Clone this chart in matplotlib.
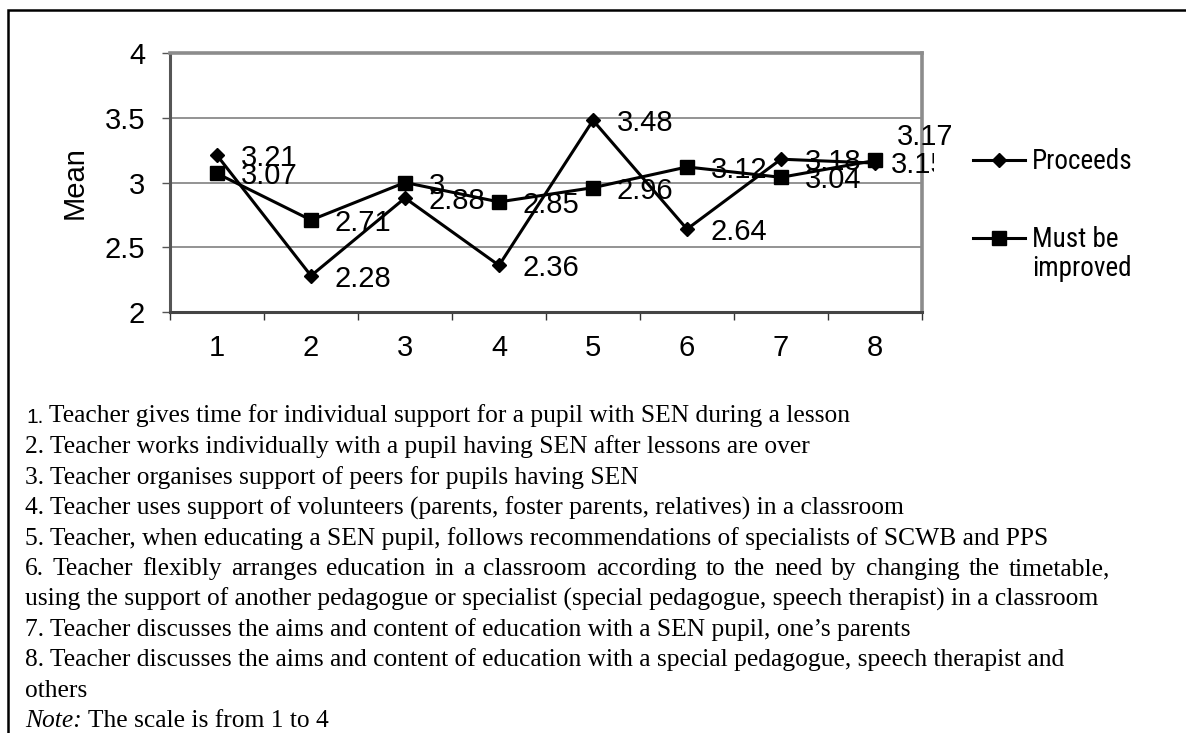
import matplotlib
matplotlib.use("Agg")
import matplotlib.pyplot as plt
from matplotlib.lines import Line2D
from matplotlib.patches import Rectangle
from matplotlib.transforms import Bbox
from matplotlib import font_manager
from matplotlib.font_manager import FontProperties
import numpy as np

W, H = 1186, 733

# chart data
categories = [1, 2, 3, 4, 5, 6, 7, 8]
proceeds = [3.21, 2.28, 2.88, 2.36, 3.48, 2.64, 3.18, 3.15]
must_improve = [3.07, 2.71, 3.00, 2.85, 2.96, 3.12, 3.04, 3.17]
y_ticks = [2, 2.5, 3, 3.5, 4]
y_tick_labels = ["2", "2.5", "3", "3.5", "4"]
series_names = ["Proceeds", "Must be\nimproved"]

notes = [
    "1. Teacher gives time for individual support for a pupil with SEN during a lesson",
    "2. Teacher works individually with a pupil having SEN after lessons are over",
    "3. Teacher organises support of peers for pupils having SEN",
    "4. Teacher uses support of volunteers (parents, foster parents, relatives) in a classroom",
    "5. Teacher, when educating a SEN pupil, follows recommendations of specialists of SCWB and PPS",
    "6. Teacher flexibly arranges education in a classroom according to the need by changing the timetable,",
    "using the support of another pedagogue or specialist (special pedagogue, speech therapist) in a classroom",
    "7. Teacher discusses the aims and content of education with a SEN pupil, one\u2019s parents",
    "8. Teacher discusses the aims and content of education with a special pedagogue, speech therapist and",
    "others",
]
note_label = "Note:"
note_text = " The scale is from 1 to 4"

SANS = "Liberation Sans"
SERIF = "Liberation Serif"
LABEL_SIZE = 21
SERIF_SIZE = 18.4


def find_narrow():
    # looks for any installed condensed sans font for the legend
    cands = []
    for f in font_manager.fontManager.ttflist:
        if f.style != "normal" or f.weight not in (400, "normal", "regular"):
            continue
        if "Mono" in f.name or "Serif" in f.name:
            continue
        narrow = ("Narrow" in f.name or "Condensed" in f.name
                  or f.stretch in ("condensed", "semi-condensed"))
        if narrow:
            rank = 0 if "Liberation" in f.name else (1 if "Roboto" in f.name else 2)
            cands.append((rank, f.fname))
    if cands:
        return FontProperties(fname=sorted(cands)[0][1], size=19.5)
    return FontProperties(family=SANS, size=16.5)


legend_font = find_narrow()


def px(x, y):
    # pixel position (from top-left) -> figure fraction
    return x / W, 1 - y / H


fig = plt.figure(figsize=(W / 100, H / 100), dpi=100)
ax = fig.add_axes([170 / W, 1 - 312 / H, 752 / W, 259 / H])

ax.plot(categories, proceeds, color="black", lw=2.2, marker="D", ms=7.5,
        clip_on=False, zorder=4)
ax.plot(categories, must_improve, color="black", lw=2.2, marker="s", ms=10.5,
        clip_on=False, zorder=4)

ax.set_xlim(0.5, 8.5)
ax.set_ylim(2, 4)
ax.set_yticks(y_ticks)
ax.set_yticklabels(y_tick_labels, fontfamily=SANS, fontsize=LABEL_SIZE)
ax.set_xticks(np.arange(0.5, 9, 1))
ax.set_xticklabels([])
ax.set_xticks(categories, minor=True)
ax.set_xticklabels([str(c) for c in categories], minor=True, fontfamily=SANS,
                   fontsize=LABEL_SIZE)
ax.tick_params(axis="x", which="minor", length=0, pad=16)
ax.tick_params(axis="x", which="major", length=6, width=1, color="#333333", direction="out")
ax.tick_params(axis="y", length=6, width=1, color="#555555", pad=12)
ax.yaxis.grid(True, color="#808080", lw=1.2)
ax.set_axisbelow(True)
for side in ("top", "right"):
    ax.spines[side].set_color("#8c8c8c")
    ax.spines[side].set_linewidth(2.6)
ax.spines["left"].set_color("#555555")
ax.spines["left"].set_linewidth(2.2)
ax.spines["bottom"].set_color("#444444")
ax.spines["bottom"].set_linewidth(2.2)

fig.text(*px(75, 183), "Mean", rotation=90, ha="center", va="center",
         fontfamily=SANS, fontsize=LABEL_SIZE)

# data labels (offsets in pixels; a few nudged like the original)
nudge = {("m", 7): (22, 23), ("p", 7): (16, -2)}
clip_x = {("p", 7): 934, ("m", 7): 951}
for key, vals in (("p", proceeds), ("m", must_improve)):
    for i, (c, v) in enumerate(zip(categories, vals)):
        dx, dy = nudge.get((key, i), (24, -3))
        t = ax.annotate(f"{v:g}", (c, v), xytext=(dx, dy), textcoords="offset pixels",
                        ha="left", va="center", fontfamily=SANS, fontsize=LABEL_SIZE,
                        zorder=5, annotation_clip=False)
        if (key, i) in clip_x:
            t.set_clip_box(Bbox([[0, 0], [clip_x[(key, i)], H]]))
            t.set_clip_on(True)

# legend
for (ly, marker, ms), name in zip(((160, "D", 7.5), (238, "s", 10.5)), series_names):
    x0, y0 = px(973, ly)
    x1, _ = px(1025, ly)
    fig.add_artist(Line2D([x0, x1], [y0, y0], color="black", lw=2.2,
                          transform=fig.transFigure))
    fig.add_artist(Line2D([(x0 + x1) / 2], [y0], color="black", marker=marker, ms=ms,
                          transform=fig.transFigure))
    for k, ln in enumerate(name.split("\n")):
        fig.text(*px(1032, ly + 9 + k * 29.5), ln, ha="left", va="baseline",
                 fontproperties=legend_font)

# item descriptions below the chart
renderer = fig.canvas.get_renderer()
baselines = [423 + i * 30.4 for i in range(len(notes) + 1)]
for i, line in enumerate(notes):
    y = baselines[i]
    if i == 0:
        num, rest = line.split(" ", 1)
        t0 = fig.text(*px(26, y), num, ha="left", va="baseline",
                      fontfamily=SANS, fontsize=15)
        fig.add_artist(matplotlib.text.Annotation(
            " " + rest, xy=(1, 0), xycoords=t0, va="bottom", ha="left",
            fontfamily=SERIF, fontsize=SERIF_SIZE))
    elif i == 5:
        # justified line
        words = line.split()
        arts = [fig.text(*px(25, y), w, ha="left", va="baseline",
                         fontfamily=SERIF, fontsize=SERIF_SIZE) for w in words]
        widths = [a.get_window_extent(renderer).width for a in arts]
        gap = ((1110 - 25) - sum(widths)) / (len(words) - 1)
        x = 25
        for a, w in zip(arts, widths):
            a.set_x(x / W)
            x += w + gap
    else:
        fig.text(*px(25, y), line, ha="left", va="baseline",
                 fontfamily=SERIF, fontsize=SERIF_SIZE)

tn = fig.text(*px(25, baselines[-1]), note_label, ha="left", va="baseline",
              fontfamily=SERIF, fontstyle="italic", fontsize=SERIF_SIZE)
fig.add_artist(matplotlib.text.Annotation(
    note_text, xy=(1, 0), xycoords=tn, va="bottom", ha="left",
    fontfamily=SERIF, fontsize=SERIF_SIZE))

# outer frame
fig.add_artist(Rectangle(px(8, H + 20), 1.2, (H + 10) / H, transform=fig.transFigure,
                         fill=False, ec="black", lw=1.8))

fig.savefig("out.png", dpi=100)
